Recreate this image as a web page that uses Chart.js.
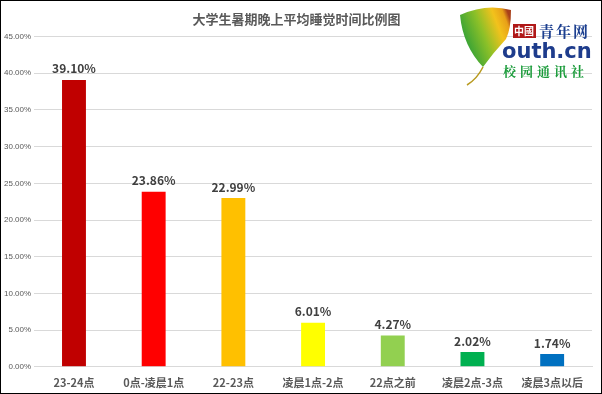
<!DOCTYPE html>
<html lang="zh">
<head>
  <meta charset="UTF-8">
  <title>大学生暑期晚上平均睡觉时间比例图</title>
  <script src="https://cdn.jsdelivr.net/npm/chart.js"></script>
  <style>
    body { margin: 0; background: #fff; }
    #box { width: 602px; height: 394px; box-sizing: border-box; border: 1px solid #000; position: relative; }
  </style>
</head>
<body>
  <div id="box">
    <canvas id="myChart" width="600" height="392"></canvas>
  </div>

  <script>
    const categories = ['23-24点', '0点-凌晨1点', '22-23点', '凌晨1点-2点', '22点之前', '凌晨2点-3点', '凌晨3点以后'];
    const shares = [39.10, 23.86, 22.99, 6.01, 4.27, 2.02, 1.74];
    const barColors = ['#C00000', '#FF0000', '#FFC000', '#FFFF00', '#92D050', '#00B050', '#0070C0'];

    // value labels above the bars
    const valueLabels = {
      id: 'valueLabels',
      afterDatasetsDraw(chart) {
        const ctx = chart.ctx;
        const meta = chart.getDatasetMeta(0);
        ctx.save();
        ctx.font = 'bold 12px "Noto Sans CJK SC", "DejaVu Sans", sans-serif';
        ctx.fillStyle = '#404040';
        ctx.textAlign = 'center';
        ctx.textBaseline = 'bottom';
        meta.data.forEach((bar, i) => {
          ctx.fillText(shares[i].toFixed(2) + '%', bar.x, bar.y - 5);
        });
        ctx.restore();
      }
    };

    // the youth.cn badge in the upper right corner
    const badge = {
      id: 'badge',
      afterDraw(chart) {
        const ctx = chart.ctx;
        ctx.save();
        // leaf
        const g = ctx.createLinearGradient(458, 40, 510, 20);
        g.addColorStop(0, '#1f9a3a');
        g.addColorStop(0.45, '#8cc028');
        g.addColorStop(0.75, '#f2c21c');
        g.addColorStop(0.92, '#e8a018');
        g.addColorStop(1, '#a8401a');
        ctx.fillStyle = g;
        ctx.beginPath();
        ctx.moveTo(482, 66);
        ctx.quadraticCurveTo(462, 45, 459, 14);
        ctx.quadraticCurveTo(485, 2, 510, 9);
        ctx.quadraticCurveTo(510, 28, 505, 38);
        ctx.quadraticCurveTo(492, 52, 482, 66);
        ctx.fill();
        ctx.strokeStyle = '#b89a20';
        ctx.lineWidth = 1.5;
        ctx.beginPath();
        ctx.moveTo(482, 66);
        ctx.quadraticCurveTo(476, 78, 466, 84);
        ctx.stroke();
        // red box
        ctx.fillStyle = '#b01818';
        ctx.fillRect(512, 23, 23, 14);
        ctx.fillStyle = '#fff';
        ctx.font = 'bold 10px "Noto Sans CJK SC", sans-serif';
        ctx.textBaseline = 'middle';
        ctx.textAlign = 'left';
        ctx.fillText('中國', 513, 30);
        ctx.fillStyle = '#1c3f8f';
        ctx.font = 'bold 15px "Noto Serif CJK SC", "Noto Sans CJK SC", serif';
        ctx.letterSpacing = '2px';
        ctx.fillText('青年网', 538, 30);
        ctx.letterSpacing = '0px';
        ctx.fillStyle = '#1e3c8c';
        ctx.font = 'bold 21px "DejaVu Sans", sans-serif';
        ctx.fillText('outh.cn', 501, 52);
        ctx.fillStyle = '#1a9b3a';
        ctx.font = 'bold 13px "Noto Serif CJK SC", "Noto Sans CJK SC", serif';
        ctx.letterSpacing = '4px';
        ctx.fillText('校园通讯社', 502, 70);
        ctx.restore();
      }
    };

    const ctx = document.getElementById('myChart').getContext('2d');
    new Chart(ctx, {
      type: 'bar',
      data: {
        labels: categories,
        datasets: [{
          data: shares,
          backgroundColor: barColors,
          barPercentage: 0.3,
          categoryPercentage: 1
        }]
      },
      options: {
        responsive: false,
        animation: false,
        layout: { padding: { left: 0, right: 9, top: 0, bottom: 3 } },
        plugins: {
          legend: { display: false },
          tooltip: { enabled: false },
          title: {
            display: true,
            text: '大学生暑期晚上平均睡觉时间比例图',
            color: '#595959',
            font: { size: 13, weight: 'bold', family: '"Noto Sans CJK SC", sans-serif' },
            padding: { top: 10, bottom: 10 }
          }
        },
        scales: {
          y: {
            min: 0,
            max: 45,
            ticks: {
              stepSize: 5,
              color: '#595959',
              font: { size: 8, family: '"Liberation Sans", sans-serif' },
              padding: 3,
              callback: v => v.toFixed(2) + '%'
            },
            grid: { color: '#d9d9d9', drawTicks: false },
            border: { display: false }
          },
          x: {
            ticks: {
              color: '#595959',
              font: { size: 11, weight: 'bold', family: '"Noto Sans CJK SC", sans-serif' },
              padding: 1,
              maxRotation: 0
            },
            grid: { display: false },
            border: { color: '#d9d9d9' }
          }
        }
      },
      plugins: [valueLabels, badge]
    });
  </script>
</body>
</html>
